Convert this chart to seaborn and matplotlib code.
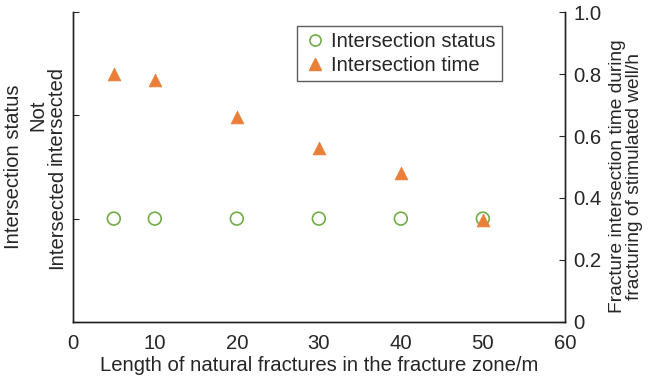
import matplotlib
matplotlib.use("Agg")
import matplotlib.pyplot as plt
import seaborn as sns
import pandas as pd
from matplotlib.lines import Line2D

sns.set_style("white")
plt.rcParams['font.family'] = ['Liberation Sans', 'DejaVu Sans']

lengths = [5, 10, 20, 30, 40, 50]
status = [1, 1, 1, 1, 1, 1]  # 1 = Intersected
times = [0.80, 0.782, 0.66, 0.56, 0.48, 0.33]
status_ticks = [0, 1, 2, 3]
status_labels = ["", "Intersected", "Not\nintersected", ""]
x_ticks = [0, 10, 20, 30, 40, 50, 60]
right_ticks = [0, 0.2, 0.4, 0.6, 0.8, 1.0]
right_labels = ["0", "0.2", "0.4", "0.6", "0.8", "1.0"]

df = pd.DataFrame({"length": lengths, "status": status, "time": times})

green = "#70AD47"
orange = "#E97F39"
fs = 14.6

fig = plt.figure(figsize=(6.5, 3.8), dpi=100)
ax = fig.add_axes([0.112, 0.153, 0.757, 0.815])
ax2 = ax.twinx()

sns.scatterplot(data=df, x="length", y="status", ax=ax, marker="o", s=85,
                facecolor="none", edgecolor=green, linewidth=1.2, legend=False)
sns.scatterplot(data=df, x="length", y="time", ax=ax2, marker="^", s=85,
                color=orange, edgecolor=orange, linewidth=0.5, legend=False)

ax.set_xlim(0, 60)
ax.set_ylim(0, 3)
ax2.set_ylim(0, 1.0)
ax.set_xticks(x_ticks)
ax.set_xticklabels([str(t) for t in x_ticks], fontsize=fs)
ax.set_yticks(status_ticks)
ax.set_yticklabels(status_labels, fontsize=fs, rotation=90, va="center", ha="right",
                   multialignment="center", linespacing=0.95)
ax2.set_yticks(right_ticks)
ax2.set_yticklabels(right_labels, fontsize=fs)

ax.set_xlabel("Length of natural fractures in the fracture zone/m", fontsize=fs, labelpad=2)
ax.set_ylabel("Intersection status", fontsize=fs, labelpad=4)
ax2.set_ylabel("Fracture intersection time during\nfracturing of stimulated well/h",
               fontsize=13.8, linespacing=0.95)
ax2.yaxis.label.set_va("center")
ax2.yaxis.set_label_coords(1.124, 0.47)

for a in (ax, ax2):
    a.spines["top"].set_visible(False)
    for s in a.spines.values():
        s.set_color("#222222")
        s.set_linewidth(1.0)
ax.tick_params(axis="x", direction="in", length=4, width=0.8, pad=9)
ax.tick_params(axis="y", direction="in", length=4, width=0.8, pad=5)
ax2.tick_params(axis="y", direction="in", length=4, width=0.8, pad=6)

handles = [
    Line2D([], [], marker="o", linestyle="none", markerfacecolor="none",
           markeredgecolor=green, markersize=8, markeredgewidth=1.2),
    Line2D([], [], marker="^", linestyle="none", color=orange, markersize=8),
]
leg = ax2.legend(handles, ["Intersection status", "Intersection time"],
                 loc="upper left", bbox_to_anchor=(0.455, 0.955), fontsize=fs,
                 frameon=True, fancybox=False, edgecolor="#333333",
                 handletextpad=0.2, borderpad=0.3, labelspacing=0.25, handlelength=1.2,
                 borderaxespad=0)
leg.get_frame().set_linewidth(1.0)

fig.savefig("out.png", dpi=100)
